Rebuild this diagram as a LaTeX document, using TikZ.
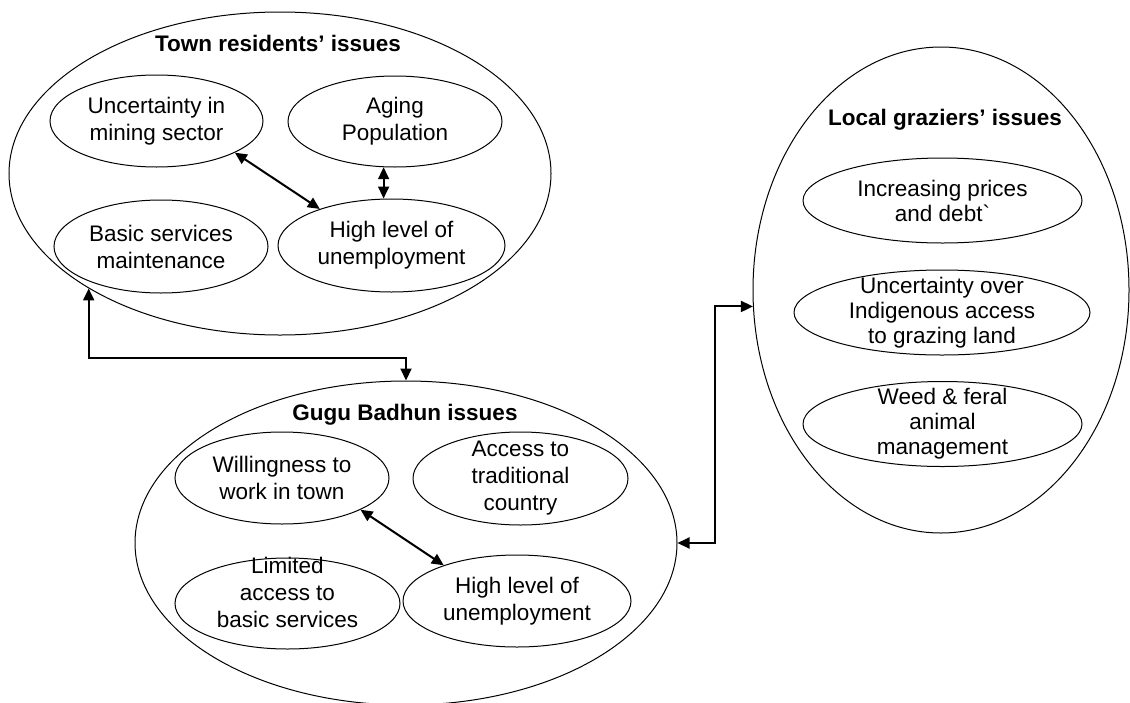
\documentclass[tikz,border=0pt]{standalone}
\usepackage{fontspec}
\setmainfont{Liberation Sans}
\usetikzlibrary{shapes.geometric,arrows.meta,positioning}

\tikzset{
  grp/.style={draw, ellipse, line width=1pt, inner sep=0pt},
  txt/.style={align=center, font=\fontsize{22.5}{27}\selectfont},
  issue/.style={draw, ellipse, line width=1pt, inner xsep=0pt, inner ysep=-8pt, txt},
  lissue/.style={issue, font=\fontsize{22.5}{25}\selectfont},
  head/.style={font=\fontsize{22.5}{27}\selectfont\bfseries},
  link/.style={<->, line width=2pt, >={Triangle[length=12pt,width=11pt]}},
}

\begin{document}
\begin{tikzpicture}[x=1pt, y=-1pt]
\useasboundingbox (0,0) rectangle (1130,702);

% town residents
\node[grp, minimum width=542, minimum height=323] (town) at (280,173.5) {};
\node[head] (townT) at (278,43) {Town residents' issues};
\node[issue, minimum width=213, minimum height=92] (tunc) at (156.5,121) {Uncertainty in\\mining sector};
\node[issue, minimum width=214, minimum height=91] (tage) at (395,121.5) {Aging\\Population};
\node[issue, minimum width=214, minimum height=93] (tbas) at (161,246.5) {Basic services\\maintenance};
\node[issue, minimum width=227, minimum height=93] (thigh) at (391.5,245.5) {High level of\\unemployment};

% gugu badhun
\node[grp, minimum width=542, minimum height=324] (gugu) at (406,543) {};
\node[head] (guguT) at (405,415) {Gugu Badhun issues};
\node[issue, minimum width=214, minimum height=92] (gwil) at (282,478) {Willingness to\\work in town};
\node[issue, minimum width=215, minimum height=93] (gacc) at (520.5,478.5) {Access to\\traditional\\country};
\node[issue, minimum width=225, minimum height=91,
  label={[name=glimT, txt, yshift=11.5pt]center:Limited\\access to\\basic services}] (glim) at (287.5,603.5) {};
\node[issue, minimum width=228, minimum height=92] (ghigh) at (517,601) {High level of\\unemployment};

% local graziers
\node[grp, minimum width=376, minimum height=486] (local) at (941,290) {};
\node[head] (localT) at (945,120) {Local graziers' issues};
\node[lissue, minimum width=279, minimum height=85] (lpri) at (942.5,200.5) {Increasing prices\\and debt\textasciigrave};
\node[lissue, minimum width=296, minimum height=85] (lacc) at (942,312.5) {Uncertainty over\\Indigenous access\\to grazing land};
\node[lissue, minimum width=279, minimum height=85] (lweed) at (942.5,424) {Weed \& feral\\animal\\management};

% links
\draw[link] (tunc.-22) -- (thigh.153);
\draw[link] (tage.256) -- (tage.256 |- thigh.north);
\draw[link] (gwil.-22) -- (ghigh.154);
\draw[link] (town.211) |- ([yshift=23pt]gugu.north) -- (gugu.north);
\draw[link] (gugu.east) -| ([xshift=-38pt]local.185) -- (local.185);

\end{tikzpicture}
\end{document}
